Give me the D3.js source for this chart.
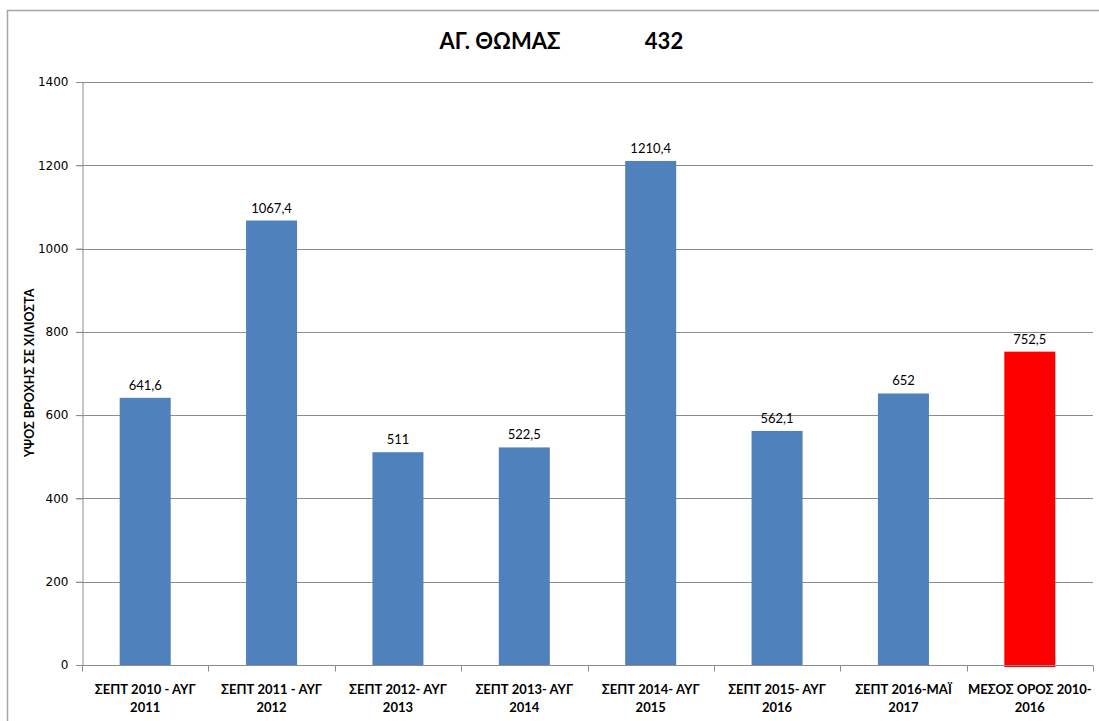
<!DOCTYPE html>
<html>
<head>
<meta charset="utf-8">
<script src="https://cdn.jsdelivr.net/npm/d3@7"></script>
<style>
  body { margin: 0; background: #fff; }
  text { fill: #000; }
</style>
</head>
<body>
<svg id="main-svg"></svg>
<script>
let categories = [
  ['ΣΕΠΤ 2010 - ΑΥΓ', '2011'],
  ['ΣΕΠΤ 2011 - ΑΥΓ', '2012'],
  ['ΣΕΠΤ 2012- ΑΥΓ', '2013'],
  ['ΣΕΠΤ 2013- ΑΥΓ', '2014'],
  ['ΣΕΠΤ 2014- ΑΥΓ', '2015'],
  ['ΣΕΠΤ 2015- ΑΥΓ', '2016'],
  ['ΣΕΠΤ 2016-ΜΑΪ', '2017'],
  ['ΜΕΣΟΣ ΟΡΟΣ 2010-', '2016']
];
let values = [641.6, 1067.4, 511, 522.5, 1210.4, 562.1, 652, 752.5];
let valueLabels = ['641,6', '1067,4', '511', '522,5', '1210,4', '562,1', '652', '752,5'];
let yTicks = [0, 200, 400, 600, 800, 1000, 1200, 1400];

let width = 1099;
let height = 721;
let plotLeft = 82, plotRight = 1093, plotTop = 82, plotBottom = 665;

let svg = d3.select('#main-svg')
  .attr('width', width)
  .attr('height', height);

// outer chart frame (only top and left visible)
svg.append('path')
  .attr('d', `M7.5,${height} V10.5 H${width}`)
  .style('fill', 'none')
  .style('stroke', '#a6a6a6')
  .style('stroke-width', 1.5);

let x = d3.scaleBand()
  .domain(d3.range(categories.length))
  .range([plotLeft, plotRight]);

let y = d3.scaleLinear()
  .domain([0, 1400])
  .range([plotBottom, plotTop]);

let barWidth = 51;

// gridlines
svg.append('g')
  .selectAll('line')
  .data(yTicks.filter(d => d > 0))
  .join('line')
    .attr('x1', plotLeft - 6)
    .attr('x2', plotRight)
    .attr('y1', d => Math.round(y(d)) + 0.5)
    .attr('y2', d => Math.round(y(d)) + 0.5)
    .style('stroke', '#8c8c8c')
    .style('stroke-width', 1);

// y axis
let yAxis = svg.append('g')
  .attr('transform', `translate(${plotLeft + 0.5},0)`)
  .call(d3.axisLeft(y).tickValues(yTicks).tickSize(6).tickPadding(8).tickFormat(d3.format('d')));
yAxis.select('.domain').style('stroke', '#8c8c8c');
yAxis.selectAll('.tick line').style('stroke', '#8c8c8c');
yAxis.selectAll('text')
  .style('font-family', 'DejaVu Sans, Verdana, sans-serif')
  .style('font-size', '12px')
  .style('fill', '#000');

// bars
svg.append('g')
  .selectAll('rect')
  .data(values)
  .join('rect')
    .attr('x', (d, i) => x(i) + x.bandwidth() / 2 - barWidth / 2)
    .attr('y', d => y(d))
    .attr('width', barWidth)
    .attr('height', (d, i) => plotBottom - y(d) + (i === values.length - 1 ? 2 : 0))
    .style('fill', (d, i) => i === values.length - 1 ? '#ff0000' : '#4f81bd');

// x axis
let xAxis = svg.append('g')
  .attr('transform', `translate(0,${plotBottom + 0.5})`);
xAxis.append('line')
  .attr('x1', plotLeft - 6).attr('x2', plotRight)
  .style('stroke', '#8c8c8c');
xAxis.selectAll('.tk')
  .data(d3.range(categories.length + 1))
  .join('line')
    .attr('class', 'tk')
    .attr('x1', i => Math.round(plotLeft + i * x.step()) + 0.5)
    .attr('x2', i => Math.round(plotLeft + i * x.step()) + 0.5)
    .attr('y1', 0).attr('y2', 6)
    .style('stroke', '#8c8c8c');

// category labels
svg.append('g')
  .selectAll('text')
  .data(categories)
  .join('text')
    .attr('text-anchor', 'middle')
    .style('font-family', 'Lato, "Open Sans", sans-serif')
    .style('font-weight', 'bold')
    .style('font-size', '13px')
    .each(function(d, i) {
      let t = d3.select(this);
      d.forEach((line, j) => {
        t.append('tspan')
          .attr('x', x(i) + x.bandwidth() / 2)
          .attr('y', 694 + j * 18)
          .text(line);
      });
    });

// value labels
svg.append('g')
  .selectAll('text')
  .data(values)
  .join('text')
    .attr('x', (d, i) => x(i) + x.bandwidth() / 2)
    .attr('y', d => y(d) - 8)
    .attr('text-anchor', 'middle')
    .style('font-family', 'Lato, "Open Sans", sans-serif')
    .style('font-size', '13px')
    .text((d, i) => valueLabels[i]);

// title
let title = svg.append('text')
  .attr('y', 49)
  .style('font-family', 'Lato, "Open Sans", sans-serif')
  .style('font-weight', 'bold')
  .style('font-size', '22px');
title.append('tspan').attr('x', 500).attr('text-anchor', 'middle').text('ΑΓ. ΘΩΜΑΣ');
title.append('tspan').attr('x', 664).attr('text-anchor', 'middle').text('432');

// y axis title
svg.append('text')
  .attr('transform', 'translate(34,373) rotate(-90)')
  .attr('text-anchor', 'middle')
  .style('font-family', 'Lato, "Open Sans", sans-serif')
  .style('font-weight', 'bold')
  .style('font-size', '12.5px')
  .text('ΥΨΟΣ ΒΡΟΧΗΣ  ΣΕ ΧΙΛΙΟΣΤΑ');
</script>
</body>
</html>
